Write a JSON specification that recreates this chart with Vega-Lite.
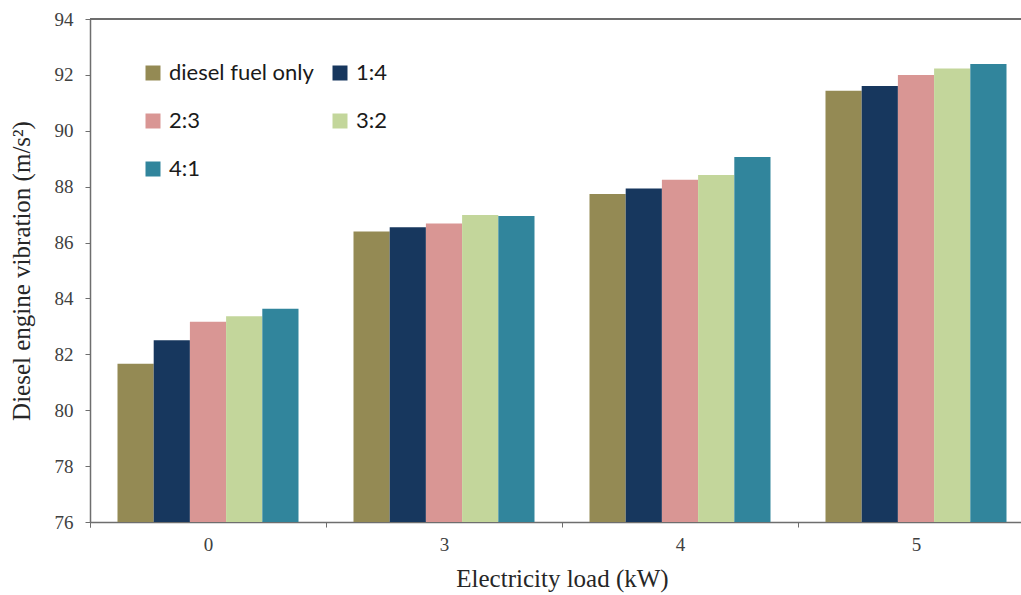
{
  "$schema": "https://vega.github.io/schema/vega-lite/v6.json",
  "autosize": "none",
  "width": 931,
  "height": 503,
  "padding": {"left": 90, "top": 19, "right": 0, "bottom": 73},
  "background": "white",
  "config": {"view": {"stroke": null}},
  "data": {
    "values": [
      {"load": "0", "ratio": "diesel fuel only", "vib": 81.66},
      {"load": "0", "ratio": "1:4", "vib": 82.50},
      {"load": "0", "ratio": "2:3", "vib": 83.17},
      {"load": "0", "ratio": "3:2", "vib": 83.36},
      {"load": "0", "ratio": "4:1", "vib": 83.63},
      {"load": "3", "ratio": "diesel fuel only", "vib": 86.40},
      {"load": "3", "ratio": "1:4", "vib": 86.55},
      {"load": "3", "ratio": "2:3", "vib": 86.68},
      {"load": "3", "ratio": "3:2", "vib": 86.99},
      {"load": "3", "ratio": "4:1", "vib": 86.95},
      {"load": "4", "ratio": "diesel fuel only", "vib": 87.74},
      {"load": "4", "ratio": "1:4", "vib": 87.93},
      {"load": "4", "ratio": "2:3", "vib": 88.25},
      {"load": "4", "ratio": "3:2", "vib": 88.42},
      {"load": "4", "ratio": "4:1", "vib": 89.06},
      {"load": "5", "ratio": "diesel fuel only", "vib": 91.43},
      {"load": "5", "ratio": "1:4", "vib": 91.60},
      {"load": "5", "ratio": "2:3", "vib": 92.00},
      {"load": "5", "ratio": "3:2", "vib": 92.23},
      {"load": "5", "ratio": "4:1", "vib": 92.39}
    ]
  },
  "layer": [
    {
      "mark": {"type": "bar", "clip": true},
      "encoding": {
        "x": {
          "field": "load",
          "type": "ordinal",
          "sort": ["0", "3", "4", "5"],
          "scale": {"range": [0, 944], "paddingInner": 0.233, "paddingOuter": 0.1165},
          "axis": {
            "title": "Electricity load (kW)",
            "titleFont": "Liberation Serif",
            "titleFontSize": 25,
            "titleFontWeight": "normal",
            "titleColor": "#262626",
            "titlePadding": 12,
            "labelFont": "Liberation Serif",
            "labelFontSize": 19,
            "labelColor": "#404040",
            "labelAngle": 0,
            "labelPadding": 8,
            "bandPosition": 0,
            "tickExtra": true,
            "tickOffset": -27.5,
            "labelOffset": 27.5,
            "tickSize": 5,
            "tickColor": "#6e6e6e",
            "domainColor": "#6e6e6e",
            "domainWidth": 1.5
          }
        },
        "xOffset": {
          "field": "ratio",
          "sort": ["diesel fuel only", "1:4", "2:3", "3:2", "4:1"],
          "scale": {"paddingInner": 0, "paddingOuter": 0}
        },
        "y": {
          "field": "vib",
          "type": "quantitative",
          "scale": {"domain": [76, 94], "zero": false, "nice": false},
          "axis": {
            "title": "Diesel engine vibration (m/s²)",
            "titleFont": "Liberation Serif",
            "titleFontSize": 25,
            "titleFontWeight": "normal",
            "titleColor": "#262626",
            "titlePadding": 20,
            "labelFont": "Liberation Serif",
            "labelFontSize": 19,
            "labelColor": "#404040",
            "labelPadding": 12,
            "values": [76, 78, 80, 82, 84, 86, 88, 90, 92, 94],
            "tickSize": 5,
            "tickColor": "#6e6e6e",
            "domainColor": "#6e6e6e",
            "domainWidth": 1.5,
            "grid": false
          }
        },
        "color": {
          "field": "ratio",
          "type": "nominal",
          "sort": ["diesel fuel only", "1:4", "2:3", "3:2", "4:1"],
          "scale": {
            "domain": ["diesel fuel only", "1:4", "2:3", "3:2", "4:1"],
            "range": ["#948A54", "#17375E", "#D99694", "#C3D69B", "#31859C"]
          },
          "legend": {
            "title": null,
            "orient": "none",
            "direction": "horizontal",
            "legendX": 52,
            "legendY": 43,
            "columns": 2,
            "symbolType": "square",
            "symbolSize": 225,
            "symbolStrokeWidth": 0,
            "labelFont": "Lato",
            "labelFontSize": 22,
            "labelColor": "#1a1a1a",
            "labelOffset": 5,
            "rowPadding": 26,
            "columnPadding": 15
          }
        }
      }
    },
    {
      "mark": {"type": "rule", "color": "#6e6e6e", "strokeWidth": 1.5},
      "encoding": {"y": {"datum": 94}}
    }
  ]
}
